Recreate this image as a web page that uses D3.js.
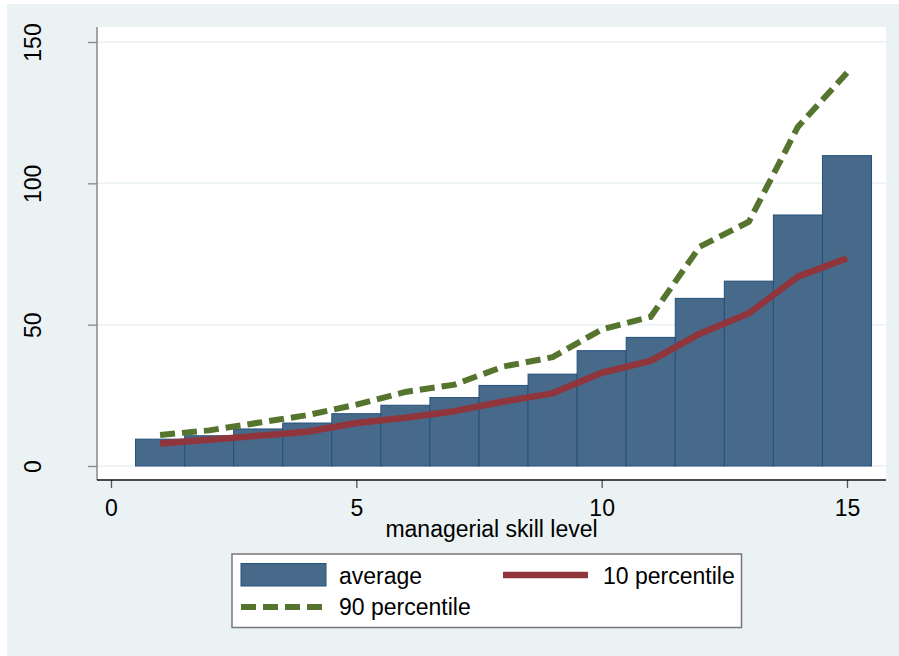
<!DOCTYPE html>
<html><head><meta charset="utf-8">
<script src="https://cdn.jsdelivr.net/npm/d3@7"></script>
<style>
html,body{margin:0;padding:0;background:#fff;}
text{font-family:"Liberation Sans",Arial,sans-serif;}
</style></head>
<body>
<svg id="chart" width="899" height="656"></svg>
<script>
const skill = [1,2,3,4,5,6,7,8,9,10,11,12,13,14,15];
const average = [9.5,10.7,13.1,15.2,18.5,21.5,24.2,28.5,32.5,40.8,45.5,59.3,65.4,88.8,109.8];
const p10 = [8.0,9.3,10.7,12.1,15.2,17.1,19.4,22.8,25.7,33.0,37.2,46.8,54.0,67.0,73.5];
const p90 = [11.0,12.6,15.3,18.0,21.7,26.2,28.8,35.2,38.5,48.3,52.8,77.6,86.4,120.0,139.1];
const xTicks = [0,5,10,15];
const yTicks = [0,50,100,150];
const xTitle = "managerial skill level";
const legendLabels = ["average","10 percentile","90 percentile"];

const colors = {bg:"#EAF2F3", bar:"#476A8B", barStroke:"#25507A", red:"#90353B", green:"#55752F"};
const FS = 23;

const svg = d3.select("#chart");
svg.append("rect").attr("x",7).attr("y",4).attr("width",892).attr("height",652).attr("fill",colors.bg);

const plot = {left:97, right:886, top:27, bottom:480};
svg.append("rect").attr("x",plot.left).attr("y",plot.top).attr("width",plot.right-plot.left).attr("height",plot.bottom-plot.top).attr("fill","#fff");

const x = d3.scaleLinear().domain([0,15]).range([111,847]);
const y = d3.scaleLinear().domain([0,150]).range([466,42]);

// gridlines
svg.append("g").selectAll("line").data(yTicks).join("line")
  .attr("x1",plot.left).attr("x2",plot.right)
  .attr("y1",d=>y(d)).attr("y2",d=>y(d))
  .attr("stroke",colors.bg).attr("stroke-width",1.5);

// bars
svg.append("g").selectAll("rect").data(skill).join("rect")
  .attr("x",(d)=>x(d-0.5)).attr("width",(d)=>x(d+0.5)-x(d-0.5))
  .attr("y",(d,i)=>y(average[i])).attr("height",(d,i)=>y(0)-y(average[i]))
  .attr("fill",colors.bar).attr("stroke",colors.barStroke).attr("stroke-width",1);

const line = d3.line().x((d,i)=>x(skill[i])).y(d=>y(d));
svg.append("path").datum(p10).attr("d",line).attr("fill","none")
  .attr("stroke",colors.red).attr("stroke-width",6.5).attr("stroke-linejoin","round");
svg.append("path").datum(p90).attr("d",line).attr("fill","none")
  .attr("stroke",colors.green).attr("stroke-width",6).attr("stroke-dasharray","15,7");

// y axis
const yAxis = d3.axisLeft(y).tickValues(yTicks).tickSize(9).tickPadding(0).tickFormat(d3.format("d"));
const gy = svg.append("g").attr("transform",`translate(${plot.left},0)`).call(yAxis);
gy.select(".domain").remove();
gy.selectAll(".tick line").attr("stroke","#888").attr("stroke-width",1.3);
gy.selectAll(".tick text").attr("transform","rotate(-90)")
  .attr("x",0).attr("y",-56).attr("dy",0).attr("text-anchor","middle")
  .attr("font-size",FS).attr("fill","#000");
svg.append("line").attr("x1",plot.left).attr("x2",plot.left).attr("y1",plot.top).attr("y2",plot.bottom)
  .attr("stroke","#888").attr("stroke-width",1.5);

// x axis
const xAxis = d3.axisBottom(x).tickValues(xTicks).tickSize(8).tickPadding(0).tickFormat(d3.format("d"));
const gx = svg.append("g").attr("transform",`translate(0,${plot.bottom})`).call(xAxis);
gx.select(".domain").remove();
gx.selectAll(".tick line").attr("stroke","#555").attr("stroke-width",1.3);
gx.selectAll(".tick text").attr("y",35.5).attr("dy",0).attr("font-size",FS).attr("fill","#000");
svg.append("line").attr("x1",plot.left).attr("x2",plot.right).attr("y1",plot.bottom).attr("y2",plot.bottom)
  .attr("stroke","#111").attr("stroke-width",1.5);

svg.append("text").attr("x",(plot.left+plot.right)/2).attr("y",537).attr("text-anchor","middle")
  .attr("font-size",FS).attr("fill","#000").text(xTitle);

// legend
const lg = svg.append("g");
lg.append("rect").attr("x",232).attr("y",554).attr("width",509.5).attr("height",73.5)
  .attr("fill","#fff").attr("stroke","#777").attr("stroke-width",1.5);
lg.append("rect").attr("x",241).attr("y",563.5).attr("width",85).attr("height",22.5)
  .attr("fill",colors.bar).attr("stroke",colors.barStroke).attr("stroke-width",1);
lg.append("line").attr("x1",503).attr("x2",588).attr("y1",575).attr("y2",575)
  .attr("stroke",colors.red).attr("stroke-width",6.5);
lg.append("line").attr("x1",241).attr("x2",326).attr("y1",607).attr("y2",607)
  .attr("stroke",colors.green).attr("stroke-width",6).attr("stroke-dasharray","15,7");
const lpos = [[339,584],[603,584],[339,614.5]];
lg.selectAll("text.lab").data(legendLabels).join("text").attr("class","lab")
  .attr("x",(d,i)=>lpos[i][0]).attr("y",(d,i)=>lpos[i][1])
  .attr("font-size",FS).attr("fill","#000").text(d=>d);
</script>
</body></html>
